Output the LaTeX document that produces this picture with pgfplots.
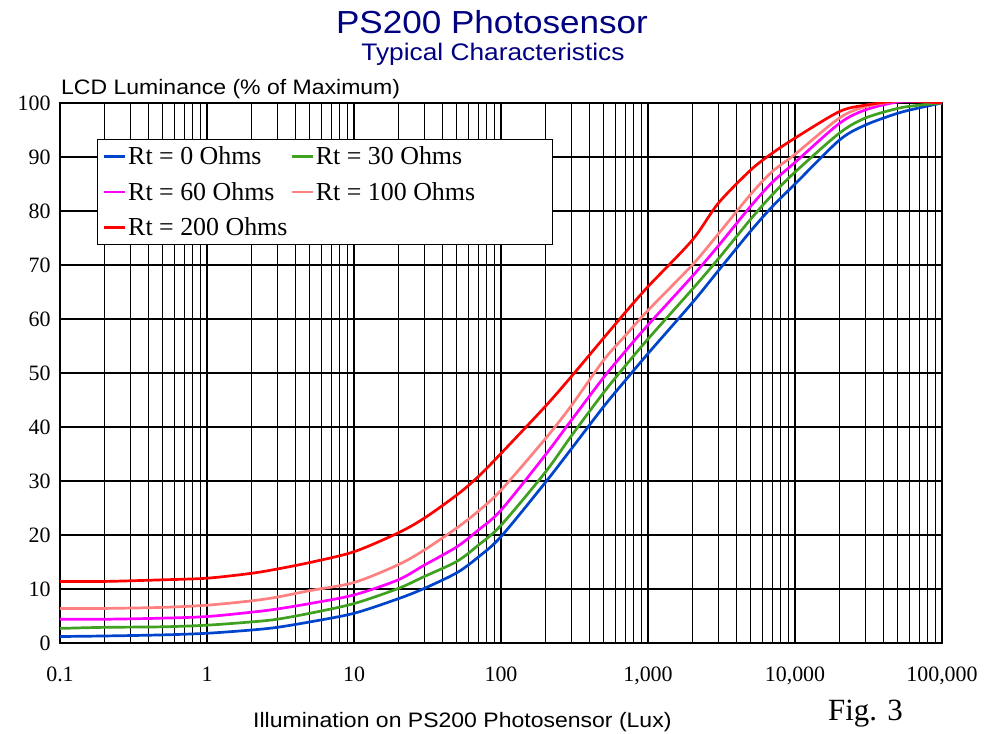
\documentclass[border=0pt]{standalone}
\usepackage{pgfplots}
\pgfplotsset{compat=1.18}
\usepackage{fontspec}
\usepackage{graphicx}
\setmainfont{Liberation Serif}
\newfontfamily\arial{Liberation Sans}

\definecolor{ttlblue}{RGB}{0,0,128}
\definecolor{c0}{RGB}{0,68,204}
\definecolor{c30}{RGB}{64,160,32}
\definecolor{c60}{RGB}{255,0,255}
\definecolor{c100}{RGB}{255,128,128}
\definecolor{c200}{RGB}{255,0,0}

% luminance (% of max) vs illumination (lux), one column per Rt
\pgfplotstableread{
lux     r0    r30   r60   r100  r200
0.1     1.2   2.7   4.4   6.4   11.4
0.2     1.3   2.9   4.4   6.4   11.4
0.5     1.5   3.0   4.6   6.6   11.7
1       1.8   3.3   4.9   7.0   12.0
2       2.4   3.9   5.7   7.8   12.9
3       2.9   4.4   6.3   8.5   13.7
5       3.9   5.5   7.3   9.7   14.9
10      5.5   7.3   8.9   11.2  16.9
20      8.2   10.1  11.7  14.5  20.4
30      10.1  12.3  14.4  17.2  23.1
50      13.0  15.1  17.8  21.3  27.4
70      15.9  18.1  20.9  24.4  30.8
100     19.7  21.8  24.6  28.3  35.1
200     29.7  31.6  34.8  37.8  43.8
300     35.9  38.3  41.2  43.9  49.3
500     43.8  46.4  49.2  52.4  56.5
700     48.6  51.3  54.0  56.9  61.2
1000    53.6  56.3  58.9  61.6  66.0
2000    63.0  65.5  67.9  70.0  74.6
3000    68.9  71.1  73.5  75.7  81.4
5000    76.3  78.5  80.9  83.1  87.6
7000    80.8  83.0  85.3  87.3  90.7
10000   85.0  87.2  89.0  90.5  93.5
20000   93.1  94.4  96.2  97.2  98.4
30000   95.9  97.2  98.7  99.3  99.6
50000   98.1  99.0  100.2 100.4 100.4
70000   99.1  99.6  100.3 100.4 100.3
100000  100   100   100   100   100
}\lumdata

\begin{document}
\begin{tikzpicture}
\path[use as bounding box] (0,0) rectangle (987bp,734bp);
\begin{axis}[
    at={(60bp,91bp)}, anchor=south west,
    scale only axis, width=882bp, height=540bp,
    xmode=log, log basis x=10,
    xmin=0.1, xmax=100000, ymin=0, ymax=100,
    xtick={0.1,1,10,100,1000,10000,100000},
    xticklabels={0.1,1,10,100,{1,000},{10,000},{100,000}},
    minor xtick={0.2,0.3,0.4,0.5,0.6,0.7,0.8,0.9,
                 2,3,4,5,6,7,8,9,20,30,40,50,60,70,80,90,
                 200,300,400,500,600,700,800,900,
                 2000,3000,4000,5000,6000,7000,8000,9000,
                 20000,30000,40000,50000,60000,70000,80000,90000},
    ytick={0,10,...,100},
    yticklabels={0,10,20,30,40,50,60,70,80,90,100},
    minor y tick num=0,
    grid=both,
    major grid style={black, line width=1.1bp},
    minor grid style={black, line width=1.1bp},
    axis line style={black, line width=1.1bp},
    major tick length=0pt, minor tick length=0pt,
    ticklabel style={font=\fontsize{22}{26}\selectfont},
    xticklabel style={anchor=base, yshift=-39bp},
    yticklabel style={anchor=east, xshift=-6bp},
    legend columns=2,
    legend cell align=left,
    legend style={at={(0.042,0.933)}, anchor=north west, draw=black,
        line width=1bp, inner xsep=5bp, inner ysep=5bp,
        column sep=0bp, row sep=12bp,
        nodes={inner sep=2bp, font=\fontsize{26}{31}\selectfont}},
    legend image code/.code={\draw[#1, line width=2.7bp] (0bp,0bp) -- (21bp,0bp);},
    every axis plot/.append style={line width=2.7bp, smooth, no marks},
]
\addplot[c0]   table[x=lux, y=r0]   {\lumdata};
\addplot[c30]  table[x=lux, y=r30]  {\lumdata};
\addplot[c60]  table[x=lux, y=r60]  {\lumdata};
\addplot[c100] table[x=lux, y=r100] {\lumdata};
\addplot[c200] table[x=lux, y=r200] {\lumdata};
\legend{\makebox[160bp][l]{Rt = 0 Ohms}, \makebox[230bp][l]{Rt = 30 Ohms},
        \makebox[160bp][l]{Rt = 60 Ohms}, \makebox[230bp][l]{Rt = 100 Ohms},
        \makebox[160bp][l]{Rt = 200 Ohms}}
\end{axis}
\node[anchor=base, inner sep=0pt, text=ttlblue, font=\arial\fontsize{32}{37}\selectfont]
    at (492bp,700bp) {\scalebox{1.1}[1]{PS200 Photosensor}};
\node[anchor=base, inner sep=0pt, text=ttlblue, font=\arial\fontsize{24}{28}\selectfont]
    at (493bp,673bp) {\scalebox{1.1}[1]{Typical Characteristics}};
\node[anchor=base west, inner sep=0pt, font=\arial\fontsize{21}{25}\selectfont]
    at (61bp,639bp) {\scalebox{1.1}[1]{LCD Luminance (\% of Maximum)}};
\node[anchor=base west, inner sep=0pt, font=\arial\fontsize{21}{25}\selectfont]
    at (253bp,7bp) {\scalebox{1.1}[1]{Illumination on PS200 Photosensor (Lux)}};
\node[anchor=base west, inner sep=0pt, font=\fontsize{31}{36}\selectfont]
    at (828bp,14bp) {Fig. 3};
\end{tikzpicture}
\end{document}
